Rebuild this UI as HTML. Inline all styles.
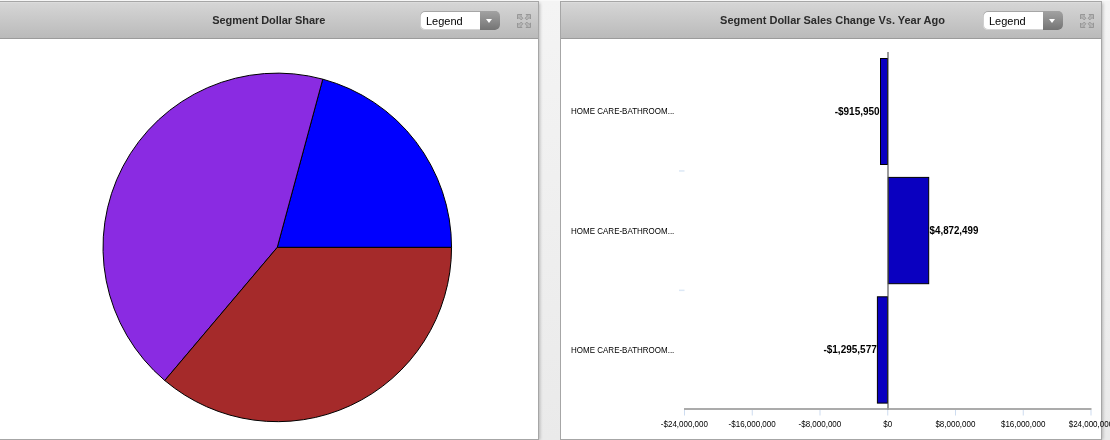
<!DOCTYPE html>
<html>
<head>
<meta charset="utf-8">
<title>Segment Dashboard</title>
<style>
html,body{margin:0;padding:0;}
body{width:1110px;height:440px;overflow:hidden;position:relative;
  background:linear-gradient(to bottom,#f9f9f9 0,#f9f9f9 1px,#f4f4f4 1px,#eaeaea 100%);
  font-family:"Liberation Sans",Arial,sans-serif;}
.panel{position:absolute;top:1px;height:439px;box-sizing:border-box;
  border:1px solid #a6a6a6;background:#fff;box-shadow:2px 1px 3px -1px rgba(0,0,0,0.24);}
#p1{left:-3px;width:542px;}
#p2{left:560px;width:542px;}
.hdr{position:absolute;left:0;top:0;right:0;height:37px;box-sizing:border-box;
  background:linear-gradient(to bottom,#d6d6d6 0%,#bababa 100%);
  border-bottom:1px solid #9b9b9b;box-shadow:inset 0 1px 0 #dcdcdc;}
.title{position:absolute;left:0;right:0;top:11px;text-align:center;font-weight:bold;
  font-size:11px;line-height:14px;color:#2b2b2b;white-space:nowrap;letter-spacing:-0.07px;padding-left:2px;}
.sel{position:absolute;top:9px;width:80px;height:19px;box-sizing:border-box;border-radius:5px;
  background:#fff;box-shadow:inset 0 1px 0 #a6a6a6,inset 1px 0 0 #cfcfcf,inset 0 -1px 0 #d4d4d4;}
.sel span{position:absolute;left:6px;top:3px;font-size:11px;line-height:14px;color:#000;}
.sel i{position:absolute;right:0;top:0;width:20px;height:19px;border-radius:0 5px 5px 0;
  background:linear-gradient(to bottom,#a2a2a2 0%,#8c8c8c 50%,#747474 100%);}
.sel i:after{content:"";position:absolute;left:6.3px;top:8px;border-left:3.7px solid transparent;border-right:3.7px solid transparent;border-top:4.500px solid #fff;}
.exp{position:absolute;top:12px;width:14px;height:14px;}
svg{position:absolute;left:0;top:0;overflow:visible;}
svg text{font-family:"Liberation Sans",Arial,sans-serif;}
</style>
</head>
<body>
<div class="panel" id="p1">
  <div class="hdr">
    <div class="title" style="padding-left:1.5px">Segment Dollar Share</div>
    <div class="sel" style="left:422px"><span>Legend</span><i></i></div>
    <svg class="exp" style="left:519px" viewBox="0 0 14 14"><g fill="#b6b6b6" stroke="#8e8e8e" stroke-width="0.8" stroke-linejoin="round">
      <path d="M0.5 0.5H5L3.6 1.9L5.9 4.200L4.200 5.900L1.900 3.600L0.500 5Z"/>
      <path d="M0.5 0.5H5L3.6 1.9L5.9 4.200L4.200 5.900L1.900 3.600L0.500 5Z" transform="translate(14,0) scale(-1,1)"/>
      <path d="M0.5 0.5H5L3.6 1.9L5.9 4.200L4.200 5.900L1.900 3.600L0.500 5Z" transform="translate(0,14) scale(1,-1)"/>
      <path d="M0.5 0.5H5L3.6 1.9L5.9 4.200L4.200 5.900L1.900 3.600L0.500 5Z" transform="translate(14,14) scale(-1,-1)"/></g></svg>
  </div>
  <svg width="540" height="437" viewBox="0 0 540 437" style="top:0;left:0">
    <g stroke="#000" stroke-width="1" stroke-linejoin="round" transform="translate(279.25,245.4)">
      <path d="M0 0L174.3 0A174.3 174.3 0 0 0 45.53 -168.25Z" fill="#0000ff"/>
      <path d="M0 0L45.53 -168.25A174.3 174.3 0 0 0 -112.5 133.1Z" fill="#8a2be2"/>
      <path d="M0 0L-112.5 133.1A174.3 174.3 0 0 0 174.3 0Z" fill="#a52a2a"/>
    </g>
  </svg>
</div>

<div class="panel" id="p2">
  <div class="hdr">
    <div class="title" style="letter-spacing:-0.02px;padding-left:3px">Segment Dollar Sales Change Vs. Year Ago</div>
    <div class="sel" style="left:422px"><span>Legend</span><i></i></div>
    <svg class="exp" style="left:519px" viewBox="0 0 14 14"><g fill="#b6b6b6" stroke="#8e8e8e" stroke-width="0.8" stroke-linejoin="round">
      <path d="M0.5 0.5H5L3.6 1.9L5.9 4.200L4.200 5.900L1.900 3.600L0.500 5Z"/>
      <path d="M0.5 0.5H5L3.6 1.9L5.9 4.200L4.200 5.900L1.900 3.600L0.500 5Z" transform="translate(14,0) scale(-1,1)"/>
      <path d="M0.5 0.5H5L3.6 1.9L5.9 4.200L4.200 5.900L1.900 3.600L0.500 5Z" transform="translate(0,14) scale(1,-1)"/>
      <path d="M0.5 0.5H5L3.6 1.9L5.9 4.200L4.200 5.900L1.900 3.600L0.500 5Z" transform="translate(14,14) scale(-1,-1)"/></g></svg>
  </div>
  <svg width="540" height="437" viewBox="0 0 540 437">
    <g fill="#dce8f6">
      <rect x="123" y="408" width="1" height="5.500" fill="#cddcf0"/>
      <rect x="190.75" y="408" width="1" height="5.500" fill="#cddcf0"/>
      <rect x="258.5" y="408" width="1" height="5.500" fill="#cddcf0"/>
      <rect x="326.25" y="408" width="1" height="5.500" fill="#cddcf0"/>
      <rect x="394" y="408" width="1" height="5.500" fill="#cddcf0"/>
      <rect x="461.75" y="408" width="1" height="5.500" fill="#cddcf0"/>
      <rect x="529.5" y="408" width="1" height="5.500" fill="#cddcf0"/>
      <rect x="118" y="168.2" width="5.5" height="1.500"/>
      <rect x="118" y="287.6" width="5.5" height="1.500"/>
    </g>
    <rect x="123" y="406" width="407.5" height="2" fill="#ababab"/>
    <rect x="326" y="50" width="2" height="358" fill="#9c9c9c"/>
    <g fill="#0a00c0" stroke="#000" stroke-width="1">
      <rect x="319.5" y="56.5" width="7" height="106"/>
      <rect x="327.3" y="175.4" width="40.4" height="106.300"/>
      <rect x="316.4" y="294.8" width="10.1" height="106.300"/>
    </g>
    <rect x="326.2" y="50" width="1.8" height="358" fill="#9c9c9c" opacity="0.3"/>
    <g font-size="8" fill="#000">
      <text transform="translate(10.1,112) scale(1,1.05)">HOME CARE-BATHROOM...</text>
      <text transform="translate(10.1,232) scale(1,1.05)">HOME CARE-BATHROOM...</text>
      <text transform="translate(10.1,351) scale(1,1.05)">HOME CARE-BATHROOM...</text>
    </g>
    <g font-size="10" font-weight="bold" fill="#000">
      <text x="318.7" y="113" text-anchor="end">-$915,950</text>
      <text transform="translate(368.6,232) scale(0.975,1)">$4,872,499</text>
      <text x="315.8" y="351" text-anchor="end">-$1,295,577</text>
    </g>
    <g font-size="8" fill="#000" text-anchor="middle">
      <text transform="translate(123.4,425) scale(1,1.05)">-$24,000,000</text>
      <text transform="translate(191.15,425) scale(1,1.05)">-$16,000,000</text>
      <text transform="translate(258.9,425) scale(1,1.05)">-$8,000,000</text>
      <text transform="translate(326.65,425) scale(1,1.05)">$0</text>
      <text transform="translate(394.4,425) scale(1,1.05)">$8,000,000</text>
      <text transform="translate(462.15,425) scale(1,1.05)">$16,000,000</text>
      <text transform="translate(529.9,425) scale(1,1.05)">$24,000,000</text>
    </g>
  </svg>
</div>
</body>
</html>
